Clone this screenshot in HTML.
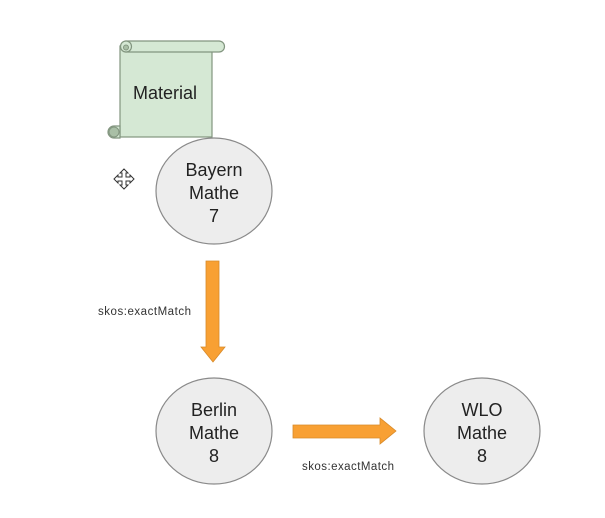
<!DOCTYPE html>
<html><head><style>body{margin:0;background:#fff}</style></head><body>
<svg width="605" height="518" xmlns="http://www.w3.org/2000/svg" style="display:block;font-family:'Liberation Sans',sans-serif">
<rect width="605" height="518" fill="#fff"/>
<!-- scroll -->
<rect x="120" y="46" width="92" height="91" fill="#d5e8d4" stroke="#82957f" stroke-width="1.2"/>
<path d="M126,41 H219 A5.5,5.5 0 0 1 219,52 H126 Z" fill="#d5e8d4" stroke="#82957f" stroke-width="1.2"/>
<circle cx="126" cy="46.5" r="5.5" fill="#d5e8d4" stroke="#82957f" stroke-width="1.2"/>
<circle cx="126" cy="47.5" r="2.5" fill="#a9bfa6" stroke="#82957f"/>
<path d="M114,126 H120 V138 H114 A6,6 0 0 1 114,126 Z" fill="#d5e8d4" stroke="#82957f" stroke-width="1.2"/>
<circle cx="114" cy="132" r="5" fill="#a9bfa6" stroke="#82957f"/>
<text x="165" y="99" font-size="18" text-anchor="middle" fill="#222">Material</text>
<!-- ellipses -->
<g fill="#ededed" stroke="#8a8a8a" stroke-width="1.2">
<ellipse cx="214" cy="191" rx="58" ry="53"/>
<ellipse cx="214" cy="431" rx="58" ry="53"/>
<ellipse cx="482" cy="431" rx="58" ry="53"/>
</g>
<g font-size="18" text-anchor="middle" fill="#222">
<text x="214" y="176">Bayern</text><text x="214" y="199">Mathe</text><text x="214" y="222">7</text>
<text x="214" y="416">Berlin</text><text x="214" y="439">Mathe</text><text x="214" y="462">8</text>
<text x="482" y="416">WLO</text><text x="482" y="439">Mathe</text><text x="482" y="462">8</text>
</g>
<!-- arrows -->
<path d="M206,261 H219 V347 H225 L213,362 L201,347 H206 Z" fill="#f8a033" stroke="#d88a2a" stroke-width="0.8"/>
<path d="M293,425 H380 V418 L396,431 L380,444 V438 H293 Z" fill="#f8a033" stroke="#d88a2a" stroke-width="0.8"/>
<g font-size="11.5" fill="#333">
<text x="98" y="315" textLength="93">skos:exactMatch</text>
<text x="302" y="470" textLength="92">skos:exactMatch</text>
</g>
<!-- move cursor -->
<g stroke="#333" fill="#fff" stroke-width="1">
<path d="M124,169 L128,173 H126 V177 H130 V175 L134,179 L130,183 V181 H126 V185 H128 L124,189 L120,185 H122 V181 H118 V183 L114,179 L118,175 V177 H122 V173 H120 Z"/>
</g>
</svg>
</body></html>
